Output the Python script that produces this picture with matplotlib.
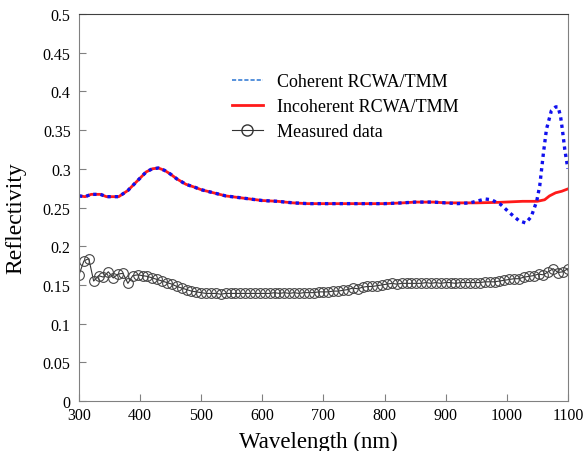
import matplotlib
matplotlib.use('Agg')
import matplotlib.pyplot as plt
from matplotlib.lines import Line2D

# ---------------------------------------------------------------
# data
# ---------------------------------------------------------------
sim_wl = [300, 310, 320, 335, 345, 365, 380, 390, 400, 410, 420, 430, 440,
          450, 460, 475, 490, 500, 520, 540, 560, 580, 600, 625, 650, 675,
          700, 750, 800, 830, 850, 880, 900]
sim_refl = [0.265, 0.264, 0.267, 0.267, 0.264, 0.264, 0.272, 0.280, 0.288,
            0.296, 0.300, 0.301, 0.298, 0.293, 0.287, 0.280, 0.276, 0.273,
            0.269, 0.265, 0.263, 0.261, 0.259, 0.258, 0.256, 0.255, 0.255,
            0.255, 0.255, 0.256, 0.257, 0.257, 0.256]

# parts where the two models separate
coh_wl = [900, 920, 940, 955, 965, 975, 990, 1005, 1020, 1031, 1040, 1049,
          1054, 1060, 1065, 1073, 1080, 1084, 1088, 1091, 1095, 1100]
coh_refl = [0.256, 0.255, 0.256, 0.259, 0.261, 0.260, 0.254, 0.243, 0.233,
            0.230, 0.238, 0.258, 0.278, 0.320, 0.351, 0.375, 0.380, 0.380,
            0.368, 0.351, 0.325, 0.300]
inc_wl = [900, 950, 989, 1026, 1050, 1062, 1070, 1080, 1090, 1100]
inc_refl = [0.256, 0.256, 0.2567, 0.258, 0.258, 0.260, 0.265, 0.269, 0.271,
            0.274]

meas_wl = list(range(300, 1101, 8))
meas_refl = [0.163, 0.181, 0.184, 0.155, 0.162, 0.160, 0.167, 0.159, 0.164,
             0.165, 0.152, 0.162, 0.163, 0.162, 0.161, 0.159, 0.157, 0.155,
             0.153, 0.151, 0.148, 0.146, 0.144, 0.142, 0.141, 0.140, 0.139,
             0.139, 0.139, 0.138, 0.139, 0.139, 0.139, 0.139, 0.139, 0.139,
             0.139, 0.139, 0.139, 0.139, 0.140, 0.139, 0.140, 0.139, 0.140,
             0.139, 0.140, 0.140, 0.140, 0.141, 0.141, 0.141, 0.142, 0.142,
             0.143, 0.144, 0.146, 0.145, 0.147, 0.148, 0.148, 0.149, 0.150,
             0.151, 0.152, 0.151, 0.152, 0.152, 0.152, 0.152, 0.152, 0.153,
             0.152, 0.153, 0.152, 0.153, 0.153, 0.152, 0.153, 0.153, 0.153,
             0.153, 0.153, 0.154, 0.154, 0.154, 0.155, 0.156, 0.157, 0.158,
             0.158, 0.160, 0.161, 0.162, 0.164, 0.163, 0.167, 0.171, 0.166,
             0.167, 0.171]

x_ticks = [300, 400, 500, 600, 700, 800, 900, 1000, 1100]
y_ticks = [0, 0.05, 0.1, 0.15, 0.2, 0.25, 0.3, 0.35, 0.4, 0.45, 0.5]
y_labels = ['0', '0.05', '0.1', '0.15', '0.2', '0.25', '0.3', '0.35', '0.4',
            '0.45', '0.5']

plt.rcParams['font.family'] = ['Liberation Serif', 'DejaVu Serif']

fig = plt.figure(figsize=(5.83, 4.52), dpi=100)
ax = fig.add_axes([0.1355, 0.1106, 0.8385, 0.8562])

# red incoherent curve under the blue dotted one
ax.plot(sim_wl + inc_wl[1:], sim_refl + inc_refl[1:], color='#ff1a1a', lw=2.0)
ax.plot(sim_wl + coh_wl[1:], sim_refl + coh_refl[1:], color='#1010ee',
        lw=2.4, linestyle=(0, (1, 1.2)))
ax.plot(meas_wl, meas_refl, color='#333333', lw=0.8, marker='o',
        markersize=7, markerfacecolor='none', markeredgecolor='#444444',
        markeredgewidth=0.8)

ax.set_xlim(300, 1100)
ax.set_ylim(0, 0.5)
ax.set_xticks(x_ticks)
ax.set_yticks(y_ticks)
ax.set_yticklabels(y_labels)
ax.tick_params(direction='in', length=5, width=0.8, color='#808080',
               labelsize=11.5)
ax.tick_params(axis='y', pad=6)
ax.tick_params(axis='x', pad=4)
for side in ['left', 'right', 'bottom']:
    ax.spines[side].set_color('#808080')
ax.spines['top'].set_color('#404040')

ax.set_xlabel('Wavelength (nm)', fontsize=16.5)
ax.xaxis.set_label_coords(0.49, -0.078)
ax.set_ylabel('Reflectivity', fontsize=17)
ax.yaxis.set_label_coords(-0.108, 0.474)

handles = [
    Line2D([], [], color='#3a7fd5', lw=1.2, linestyle=(0, (2.5, 1.2))),
    Line2D([], [], color='#ff1a1a', lw=2.0),
    Line2D([], [], color='#333333', lw=0.8, marker='o', markersize=8,
           markerfacecolor='none', markeredgecolor='#333333'),
]
ax.legend(handles, ['Coherent RCWA/TMM', 'Incoherent RCWA/TMM',
                    'Measured data'],
          loc='upper left', bbox_to_anchor=(0.28, 0.89), frameon=False,
          fontsize=13, handlelength=1.7, labelspacing=0.45)

fig.savefig('out.png', dpi=100)
